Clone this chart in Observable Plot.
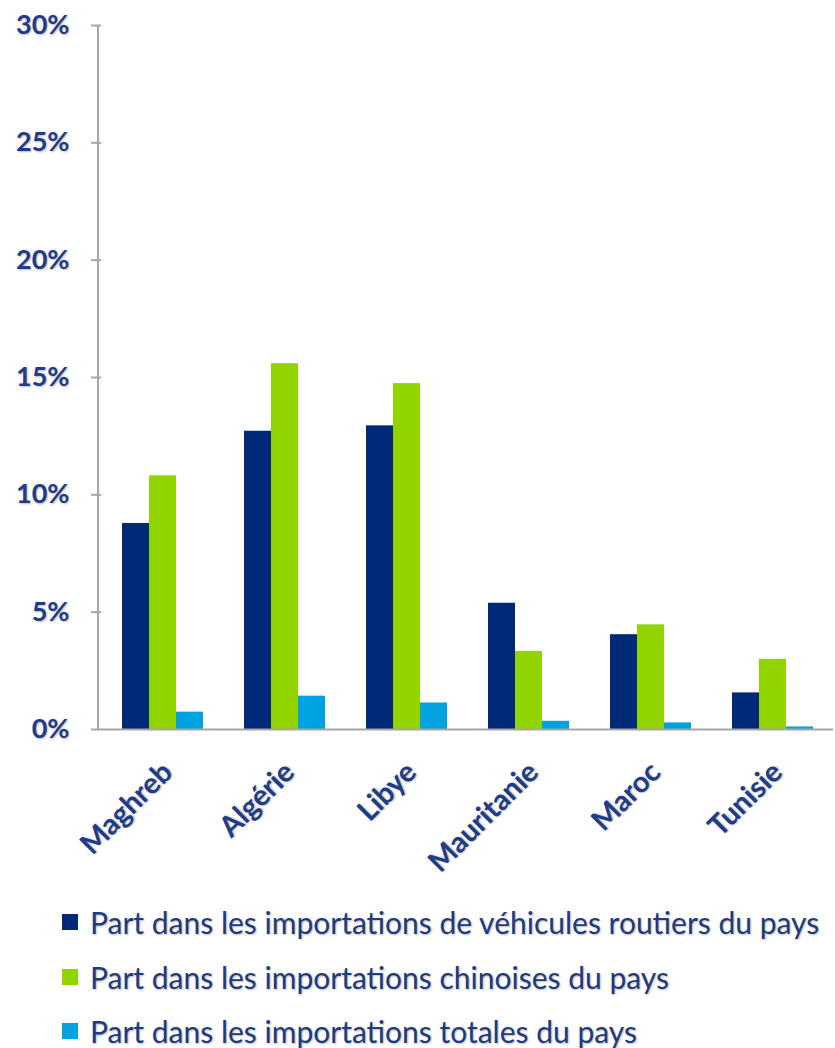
<!DOCTYPE html>
<html>
<head>
<meta charset="utf-8">
<script src="https://cdn.jsdelivr.net/npm/d3@7"></script>
<script src="https://cdn.jsdelivr.net/npm/@observablehq/plot@0.6"></script>
<style>
  body { margin: 0; background: #fff; }
  #chart svg text { text-shadow: 1px 1px 2px rgba(0,0,0,0.28); }
  .legend { font-family: Lato, sans-serif; font-size: 30px; line-height: 1; color: #1f3a80; padding-top: 0px;
            text-shadow: 1px 1px 2px rgba(0,0,0,0.28); }
  .row { display: flex; align-items: center; height: 54.5px; }
  .sw { width: 16px; height: 16px; margin-left: 62px; margin-right: 12px; flex: none; }
</style>
</head>
<body>
<div id="chart"></div>
<div class="legend" id="legend"></div>
<script>
const categories = ["Maghreb", "Algérie", "Libye", "Mauritanie", "Maroc", "Tunisie"];
const seriesNames = [
  "Part dans les importations de véhicules routiers du pays",
  "Part dans les importations chinoises du pays",
  "Part dans les importations totales du pays"
];
const vehicules = [8.78, 12.71, 12.94, 5.38, 4.04, 1.56];
const chinoises = [10.81, 15.59, 14.74, 3.33, 4.46, 2.99];
const totales = [0.74, 1.42, 1.13, 0.35, 0.28, 0.11];
const yTicks = [0, 5, 10, 15, 20, 25, 30];
const colors = ["#00297a", "#92d400", "#00a3df"];

const seriesValues = [vehicules, chinoises, totales];
const data = categories.flatMap((cat, i) =>
  seriesNames.map((s, j) => ({cat, series: s, value: seriesValues[j][i]}))
);

const textColor = "#1e3c88";
const axisColor = "#a6a6a6";

const chart = Plot.plot({
  width: 835,
  height: 895,
  marginLeft: 98,
  marginRight: 0,
  marginTop: 25,
  marginBottom: 166,
  style: {fontFamily: "Lato, sans-serif", background: "white", overflow: "visible"},
  fx: {domain: categories, padding: 0, label: null},
  x: {domain: seriesNames, paddingInner: 0, paddingOuter: 0.75, axis: null},
  y: {domain: [0, 30], label: null},
  color: {domain: seriesNames, range: colors},
  marks: [
    Plot.barY(data, {fx: "cat", x: "series", y: "value", fill: "series"}),
    Plot.ruleY([0], {stroke: axisColor, strokeWidth: 2}),
    Plot.axisY({
      ticks: yTicks, tickSize: 10, tickPadding: 22,
      tickFormat: d => d + "%",
      stroke: axisColor, strokeWidth: 2,
      fill: textColor, fontSize: 27, fontWeight: "bold", label: null
    }),
    Plot.axisFx({
      anchor: "bottom",
      tickRotate: -45, tickSize: 0, tickPadding: 38, dx: 5,
      fill: textColor, fontSize: 29, fontWeight: "bold", label: null
    })
  ]
});

// vertical axis line from the y scale
const ys = chart.scale("y");
d3.select(chart).append("line")
  .attr("x1", 98).attr("x2", 98)
  .attr("y1", ys.apply(30)).attr("y2", ys.apply(0))
  .attr("stroke", axisColor).attr("stroke-width", 2);

document.getElementById("chart").appendChild(chart);

const legend = d3.select("#legend");
seriesNames.forEach((s, i) => {
  const row = legend.append("div").attr("class", "row");
  row.append("div").attr("class", "sw").style("background", colors[i]);
  row.append("span").text(s);
});
</script>
</body>
</html>
